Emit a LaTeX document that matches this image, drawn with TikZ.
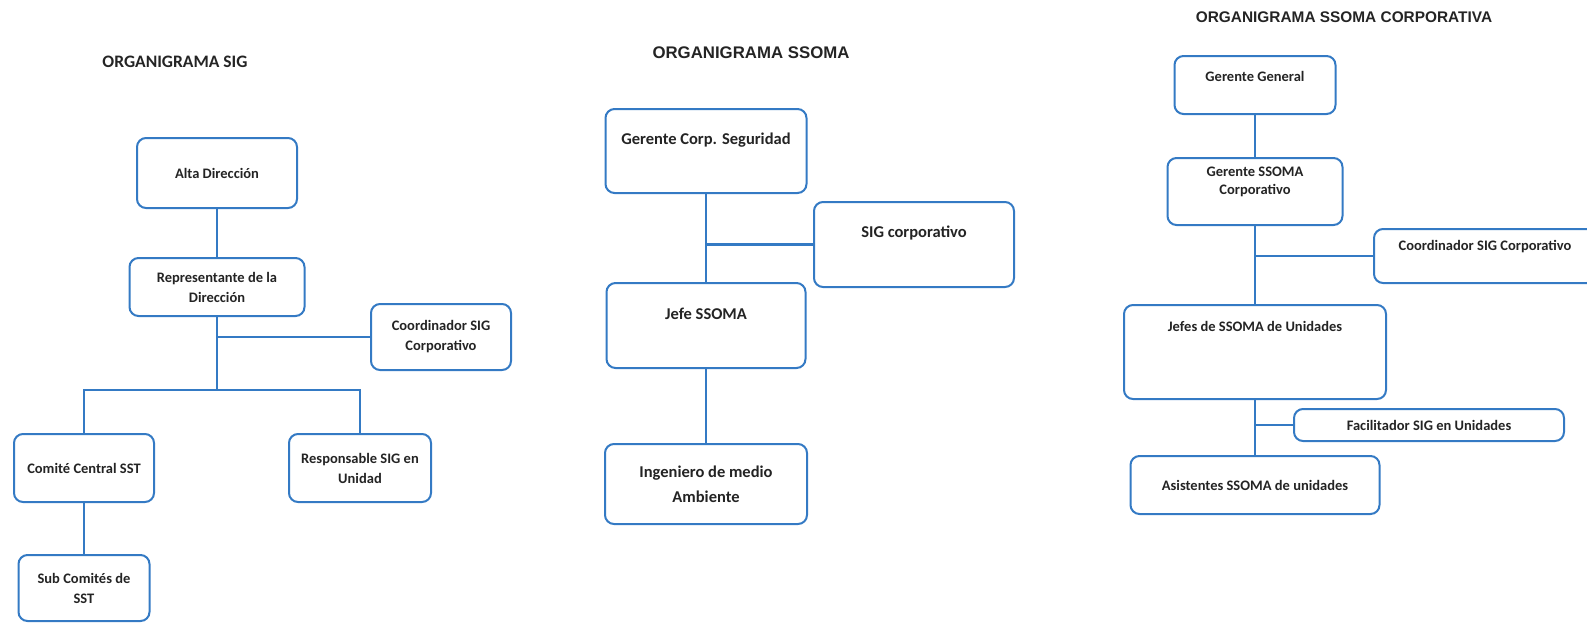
\documentclass[tikz,border=0pt]{standalone}
\usepackage{fontspec}
\setmainfont{Carlito}
\newfontfamily\arialfont{Liberation Sans}
\usetikzlibrary{positioning,calc}
\definecolor{orgblue}{RGB}{52,122,196}
\definecolor{txtgray}{RGB}{36,36,36}

\begin{document}
\begin{tikzpicture}[
      x=1pt, y=-1pt,
      box/.style  ={draw=orgblue, line width=2pt, rounded corners=9pt,
                    fill=white, text=txtgray, align=center, inner sep=2pt},
      wire/.style ={draw=orgblue, line width=2.6pt},
      ttl/.style  ={text=txtgray, inner sep=0pt},
      sigfont/.style  ={font=\bfseries\fontsize{14.5}{20}\selectfont},
      ssfont/.style   ={font=\bfseries\fontsize{16.5}{25}\selectfont},
      corpfont/.style ={font=\bfseries\fontsize{14.5}{18}\selectfont}
    ]
    \useasboundingbox (0,0) rectangle (1587,624);
    % --- titles ---
    \node[ttl, font=\bfseries\fontsize{17.5}{20}\selectfont] (tsig) at (175,62)
      {ORGANIGRAMA SIG};
    \node[ttl, font=\arialfont\bfseries\fontsize{16.8}{19}\selectfont] (tssoma) at (751,53)
      {ORGANIGRAMA SSOMA};
    \node[ttl, font=\arialfont\bfseries\fontsize{15.4}{18}\selectfont] (tcorp) at (1344,17.5)
      {ORGANIGRAMA SSOMA CORPORATIVA};
    % --- organigrama SIG ---
    \begin{scope}[every node/.append style={sigfont}]
      \node[box, minimum width=160, minimum height=70] (alta) at (217,173) {Alta Dirección};
      \node[box, minimum width=175, minimum height=58] (repr) at (217,287)
        {Representante de la\\Dirección};
      \node[box, minimum width=140, minimum height=66] (coord) at (441,337)
        {Coordinador SIG\\Corporativo};
      \node[box, minimum width=140, minimum height=68] (comite) at (84,468)
        {Comité Central SST};
      \node[box, minimum width=142, minimum height=68] (resp) at (360,468)
        {Responsable SIG en\\Unidad};
      \node[box, minimum width=131, minimum height=66] (subc) at (84,588)
        {Sub Comités de\\SST};
    \end{scope}
    \coordinate (rama) at (217,390);
    \draw[wire] (alta) -- (repr);
    \draw[wire] (repr) -- (rama);
    \draw[wire] (repr.south |- coord.west) -- (coord.west);
    \draw[wire] (comite.north) |- (rama) -| (resp.north);
    \draw[wire] (comite) -- (subc);
    % --- organigrama SSOMA ---
    \begin{scope}[every node/.append style={ssfont}]
      \node[box, minimum width=201, minimum height=84,
            label={[ttl, align=center, yshift=11pt]center:Gerente Corp. Seguridad}] (gcs) at (706,151) {};
      \node[box, minimum width=200, minimum height=85,
            label={[ttl, align=center, yshift=11.5pt]center:SIG corporativo}] (sigc) at (914,244.5) {};
      \node[box, minimum width=199, minimum height=85,
            label={[ttl, align=center, yshift=11.5pt]center:Jefe SSOMA}] (jefe) at (706,325.5) {};
      \node[box, minimum width=202, minimum height=80] (ing) at (706,484)
        {Ingeniero de medio\\Ambiente};
    \end{scope}
    \draw[wire] (gcs) -- (jefe);
    \draw[wire] (gcs.south |- sigc.west) -- (sigc.west);
    \draw[wire] (jefe) -- (ing);
    % --- organigrama SSOMA corporativa ---
    \begin{scope}[every node/.append style={corpfont}]
      \node[box, minimum width=161, minimum height=58,
            label={[ttl, align=center, yshift=9pt]center:Gerente General}] (gg) at (1255,85) {};
      \node[box, minimum width=175, minimum height=67,
            label={[ttl, align=center, yshift=9.5pt]center:{Gerente SSOMA\\Corporativo}}] (gsc) at (1255,191.5) {};
      \node[box, minimum width=222, minimum height=54,
            label={[ttl, align=center, yshift=9pt]center:Coordinador SIG Corporativo}] (csc) at (1485,256) {};
      \node[box, minimum width=262, minimum height=94,
            label={[ttl, align=center, yshift=26pt]center:Jefes de SSOMA de Unidades}] (jsu) at (1255,352) {};
      \node[box, minimum width=270, minimum height=32] (fac) at (1429,425)
        {Facilitador SIG en Unidades};
      \node[box, minimum width=249, minimum height=58] (asu) at (1255,485)
        {Asistentes SSOMA de unidades};
    \end{scope}
    \draw[wire] (gg) -- (gsc);
    \draw[wire] (gsc) -- (jsu);
    \draw[wire] (gsc.south |- csc.west) -- (csc.west);
    \draw[wire] (jsu) -- (asu);
    \draw[wire] (jsu.south |- fac.west) -- (fac.west);
  \end{tikzpicture}
\end{document}
